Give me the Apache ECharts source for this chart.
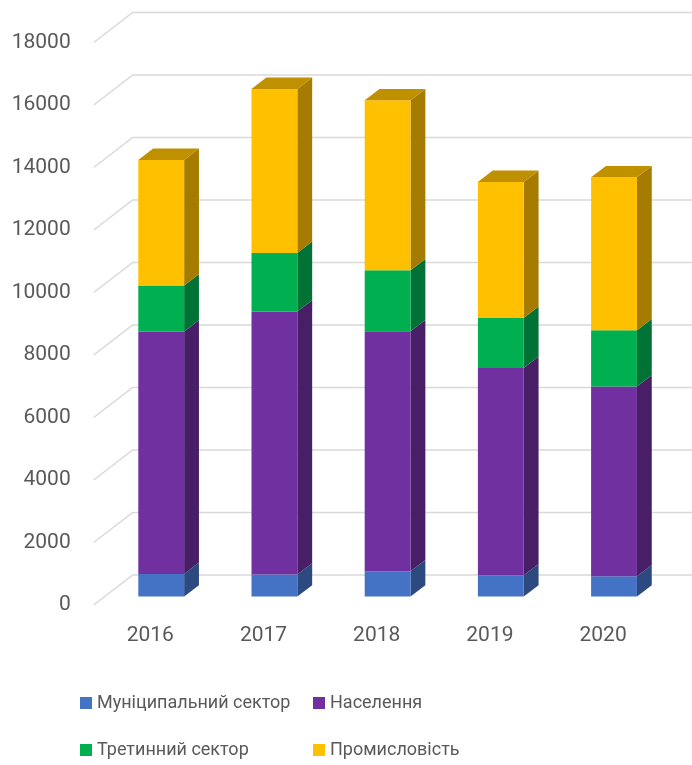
<!DOCTYPE html>
<html>
<head>
<meta charset="utf-8">
<script src="https://cdn.jsdelivr.net/npm/echarts@6/dist/echarts.min.js"></script>
<style>html,body{margin:0;padding:0;background:#fff}#c{width:692px;height:765px}</style>
</head>
<body>
<div id="c"></div>
<script>
const categories = ['2016', '2017', '2018', '2019', '2020'];
const municipal = [726, 704, 810, 682, 650];
const population = [7754, 8416, 7680, 6636, 6070];
const tertiary = [1472, 1878, 1952, 1600, 1802];
const industry = [4022, 5248, 5440, 4352, 4896];
const yTicks = [0, 2000, 4000, 6000, 8000, 10000, 12000, 14000, 16000, 18000];
const seriesNames = ['Муніципальний сектор', 'Населення', 'Третинний сектор', 'Промисловість'];

const seriesValues = [municipal, population, tertiary, industry];
const faceColors = ['#4472C4', '#7030A0', '#00B050', '#FFC000'];
const sideColors = ['#2C4A80', '#481F66', '#007236', '#A67C00'];
const topColors = ['#3A63AD', '#5E2888', '#009944', '#BF9000'];

const DEPTH_X = 39, DEPTH_Y = -30;   // full floor depth projection
const FRONT = 0.28;                  // bar front plane (fraction of depth)
const BAR_DEPTH = 0.38;              // bar depth (fraction of depth)
const BAR_RATIO = 0.405;             // bar width / band width

function barRenderer(sIdx) {
  return function (params, api) {
    const i = api.value(0), lo = api.value(1), hi = api.value(2);
    const pLo = api.coord([i, lo]);
    const pHi = api.coord([i, hi]);
    const band = api.size([1, 0])[0];
    const w = band * BAR_RATIO;
    const ox = DEPTH_X * FRONT, oy = DEPTH_Y * FRONT;
    const dx = DEPTH_X * BAR_DEPTH, dy = DEPTH_Y * BAR_DEPTH;
    const xl = pLo[0] + ox - w / 2, xr = pLo[0] + ox + w / 2;
    const yb = pLo[1] + oy, yt = pHi[1] + oy;
    const children = [
      { type: 'polygon', shape: { points: [[xr, yt], [xr + dx, yt + dy], [xr + dx, yb + dy], [xr, yb]] },
        style: { fill: sideColors[sIdx] } },
      { type: 'rect', shape: { x: xl, y: yt, width: w, height: yb - yt },
        style: { fill: faceColors[sIdx] } }
    ];
    if (sIdx === seriesValues.length - 1) {
      children.push({ type: 'polygon', shape: { points: [[xl, yt], [xr, yt], [xr + dx, yt + dy], [xl + dx, yt + dy]] },
        style: { fill: topColors[sIdx] } });
    }
    return { type: 'group', children };
  };
}

const barSeries = [];
const base = categories.map(() => 0);
seriesValues.forEach((vals, s) => {
  const data = vals.map((v, i) => {
    const item = [i, base[i], base[i] + v];
    base[i] += v;
    return item;
  });
  barSeries.push({
    name: seriesNames[s],
    type: 'custom',
    renderItem: barRenderer(s),
    encode: { x: 0, y: [1, 2] },
    itemStyle: { color: faceColors[s] },
    data,
    z: 3
  });
});

const gridSeries = {
  type: 'custom',
  silent: true,
  z: 1,
  renderItem: function (params, api) {
    const y = api.coord([0, api.value(1)])[1];
    const cs = params.coordSys;
    return {
      type: 'polyline',
      shape: { points: [[cs.x, y], [cs.x + DEPTH_X, y + DEPTH_Y], [cs.x + cs.width + DEPTH_X, y + DEPTH_Y]] },
      style: { stroke: '#D9D9D9', lineWidth: 1.5, fill: null }
    };
  },
  encode: { x: 0, y: 1 },
  data: yTicks.map(v => [0, v])
};

const textColor = '#595959';
const fontFamily = 'Roboto, "Noto Sans", sans-serif';

const legendCommon = {
  icon: 'rect',
  itemWidth: 12,
  itemHeight: 12,
  itemGap: 16,
  padding: 0,
  left: 80,
  selectedMode: false,
  textStyle: { color: textColor, fontSize: 18, fontFamily, width: 200, lineHeight: 24 }
};

const chart = echarts.init(document.getElementById('c'), null, { renderer: 'canvas' });
chart.setOption({
  animation: false,
  grid: { left: 93.7, right: 32.3, top: 42.5, bottom: 160 },
  legend: [
    Object.assign({}, legendCommon, { top: 691, data: [seriesNames[0], seriesNames[1]] }),
    Object.assign({}, legendCommon, { top: 738, data: [seriesNames[2], seriesNames[3]] })
  ],
  xAxis: {
    type: 'category',
    data: categories,
    axisLine: { show: false },
    axisTick: { show: false },
    axisLabel: { color: textColor, fontSize: 21, fontFamily, margin: 20 }
  },
  yAxis: {
    type: 'value',
    min: 0,
    max: 18000,
    interval: 2000,
    splitLine: { show: false },
    axisLine: { show: false },
    axisTick: { show: false },
    axisLabel: { color: textColor, fontSize: 21, fontFamily, margin: 23, formatter: v => String(v) }
  },
  series: [gridSeries].concat(barSeries)
});
</script>
</body>
</html>
